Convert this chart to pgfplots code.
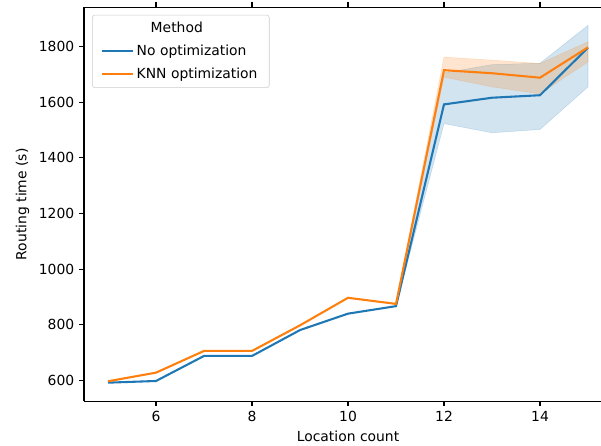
\documentclass[border=0pt]{standalone}
\usepackage{fontspec}
\setmainfont{DejaVu Sans}
\usepackage{pgfplots}
\pgfplotsset{compat=1.18}
\usepgfplotslibrary{fillbetween}
\usetikzlibrary{calc}

\definecolor{tabblue}{HTML}{1F77B4}
\definecolor{taborange}{HTML}{FF7F0E}
\newlength\px
\setlength\px{0.72pt}

\begin{document}
\begin{tikzpicture}
\begin{axis}[
    name=ax,
    scale only axis,
    width=528\px,
    height=394\px,
    xmin=4.5, xmax=15.5,
    ymin=525, ymax=1941,
    xtick={6,8,10,12,14},
    ytick={600,800,1000,1200,1400,1600,1800},
    tick align=outside,
    major tick length=3.5pt,
    tick style={black, line width=0.8pt},
    axis line style={line width=0.8pt},
    axis x line*=box,
    axis y line*=left,
    /pgf/number format/assume math mode=true,
    /pgf/number format/1000 sep={},
    ticklabel style={font=\fontsize{10}{12}\selectfont},
    label style={font=\fontsize{10}{12}\selectfont},
    xlabel={Location count},
    ylabel={Routing time (s)},
    legend cell align=left,
    legend style={
        at={(axis description cs:0.0152,0.981)}, anchor=north west,
        draw=black!20, rounded corners=2pt, fill=white,
        font=\fontsize{10}{12}\selectfont,
        inner xsep=6.5pt, inner ysep=3pt,
        row sep=3.5pt,
        /tikz/every even column/.append style={column sep=10pt},
    },
    legend image code/.code={\draw[#1, line width=1.5pt] (0pt,0pt) -- (22pt,0pt);},
]
\addlegendimage{empty legend}
\addlegendentry{\hspace*{14\px}Method}

% No optimization: mean and band
\addplot[name path=bu, draw=none, forget plot] coordinates {
    (11,867) (12,1705) (13,1735) (14,1740) (15,1876)
};
\addplot[name path=bl, draw=none, forget plot] coordinates {
    (11,867) (12,1523) (13,1490) (14,1502) (15,1655)
};
\addplot[fill=tabblue, fill opacity=0.2, draw=tabblue, draw opacity=0.2, forget plot]
    fill between[of=bu and bl];
\addplot[tabblue, line width=1.5pt] coordinates {
    (5,592) (6,598) (7,688) (8,688) (9,781) (10,840) (11,867)
    (12,1592) (13,1616) (14,1625) (15,1796)
};
\addlegendentry{No optimization}

% KNN optimization: mean and band
\addplot[name path=ou, draw=none, forget plot] coordinates {
    (11,875) (12,1762) (13,1751) (14,1739) (15,1817)
};
\addplot[name path=ol, draw=none, forget plot] coordinates {
    (11,875) (12,1690) (13,1655) (14,1630) (15,1745)
};
\addplot[fill=taborange, fill opacity=0.2, draw=taborange, draw opacity=0.2, forget plot]
    fill between[of=ou and ol];
\addplot[taborange, line width=1.5pt] coordinates {
    (5,597) (6,628) (7,706) (8,706) (9,798) (10,897) (11,875)
    (12,1715) (13,1704) (14,1688) (15,1797)
};
\addlegendentry{KNN optimization}
\end{axis}
\pgfresetboundingbox
\path[use as bounding box] ($(ax.south west)+(-84\px,-44.2\px)$)
    rectangle ($(ax.north west)+(517\px,7.3\px)$);
\end{tikzpicture}
\end{document}
